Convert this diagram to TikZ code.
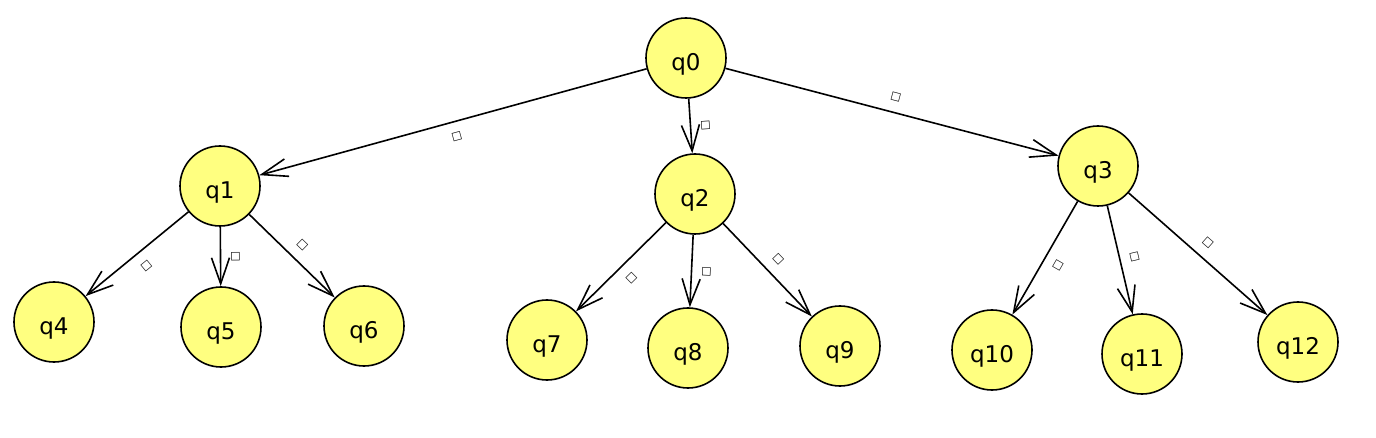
\documentclass[tikz,border=0pt]{standalone}
\usepackage{fontspec}
\setmainfont{DejaVu Sans}
\usetikzlibrary{arrows.meta}
\definecolor{statefill}{RGB}{255,255,128}
\begin{document}
\begin{tikzpicture}[x=1pt,y=-1pt,
    state/.style={circle, draw, line width=1.6pt, fill=statefill, minimum size=80pt, inner sep=0pt, text height=25pt, text depth=0pt, font=\fontsize{23}{23}\selectfont},
    trans/.style={line width=1.6pt, -{Straight Barb[length=26pt,width=18pt]}},
    lbl/.style={auto, sloped, allow upside down, inner sep=10pt, font=\fontsize{11}{11}\selectfont}]

\useasboundingbox (0,0) rectangle (1376,438);

\node[state] (q0) at (686,58) {q0};
\node[state] (q1) at (220,186) {q1};
\node[state] (q2) at (695,194) {q2};
\node[state] (q3) at (1098,166) {q3};
\node[state] (q4) at (54,322) {q4};
\node[state] (q5) at (221,327) {q5};
\node[state] (q6) at (364,326) {q6};
\node[state] (q7) at (547,340) {q7};
\node[state] (q8) at (688,348) {q8};
\node[state] (q9) at (840,346) {q9};
\node[state] (q10) at (992,350) {q10};
\node[state] (q11) at (1142,354) {q11};
\node[state] (q12) at (1298,342) {q12};

\draw[trans] (q0) -- node[lbl] {□} (q1);
\draw[trans] (q0) -- node[lbl] {□} (q2);
\draw[trans] (q0) -- node[lbl] {□} (q3);
\draw[trans] (q1) -- node[lbl] {□} (q4);
\draw[trans] (q1) -- node[lbl] {□} (q5);
\draw[trans] (q1) -- node[lbl] {□} (q6);
\draw[trans] (q2) -- node[lbl] {□} (q7);
\draw[trans] (q2) -- node[lbl] {□} (q8);
\draw[trans] (q2) -- node[lbl] {□} (q9);
\draw[trans] (q3) -- node[lbl] {□} (q10);
\draw[trans] (q3) -- node[lbl] {□} (q11);
\draw[trans] (q3) -- node[lbl] {□} (q12);

\end{tikzpicture}
\end{document}
